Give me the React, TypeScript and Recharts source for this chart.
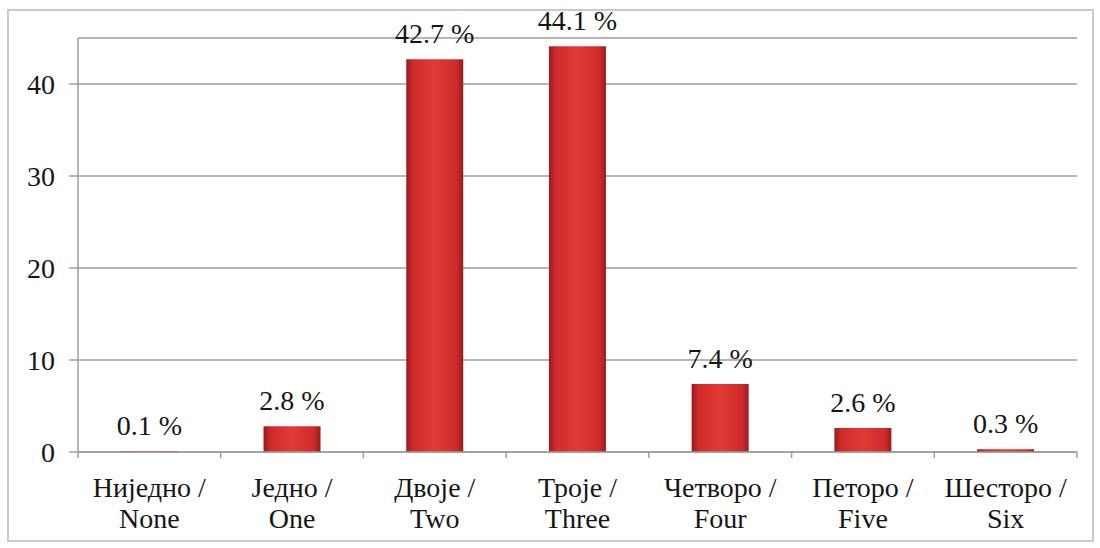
import { BarChart, Bar, XAxis, YAxis, CartesianGrid, LabelList } from 'recharts';

const categories = [
  ['Ниједно /', 'None'],
  ['Једно /', 'One'],
  ['Двоје /', 'Two'],
  ['Троје /', 'Three'],
  ['Четворо /', 'Four'],
  ['Петоро /', 'Five'],
  ['Шесторо /', 'Six'],
];
const shares = [0.1, 2.8, 42.7, 44.1, 7.4, 2.6, 0.3];
const yTicks = [0, 10, 20, 30, 40];

const data = categories.map((c, i) => ({ name: c.join(' '), lines: c, value: shares[i] }));

const FONT = 'Liberation Serif, DejaVu Serif, serif';
const LINE = '#a39c96';
const TEXT = '#161616';

function CategoryTick(props: any) {
  const { x, y, payload, index } = props;
  const half = payload.offset ?? 71;
  const lines = data[index]?.lines ?? [String(payload.value)];
  return (
    <g>
      <line x1={x - half} y1={y} x2={x - half} y2={y + 6} stroke={LINE} strokeWidth={1.5} />
      {index === data.length - 1 && (
        <line x1={x + half} y1={y} x2={x + half} y2={y + 6} stroke={LINE} strokeWidth={1.5} />
      )}
      <text x={x} y={y} textAnchor="middle" fill={TEXT} fontSize={28} fontFamily={FONT}>
        {lines.map((l: string, k: number) => (
          <tspan key={k} x={x} dy={k === 0 ? 45 : 31}>
            {l}
          </tspan>
        ))}
      </text>
    </g>
  );
}

export default function App() {
  return (
    <div style={{ position: 'absolute', left: 0, top: 0, width: 1100, height: 548, background: '#fff' }}>
      <div
        style={{
          position: 'absolute',
          left: 7,
          top: 9,
          width: 1083,
          height: 529,
          border: '2px solid #cfc9c4',
        }}
      />
      <div style={{ position: 'absolute', left: 0, top: 0 }}>
        <BarChart
          width={1100}
          height={548}
          data={data}
          margin={{ top: 38, right: 23, bottom: 6, left: 0 }}
          barCategoryGap="30%"
        >
          <defs>
            <linearGradient id="barFill" x1="0" y1="0" x2="1" y2="0">
              <stop offset="0%" stopColor="#9a1b1b" />
              <stop offset="12%" stopColor="#cf2b2b" />
              <stop offset="50%" stopColor="#e23b36" />
              <stop offset="88%" stopColor="#cf2b2b" />
              <stop offset="100%" stopColor="#9a1b1b" />
            </linearGradient>
          </defs>
          <CartesianGrid vertical={false} stroke={LINE} strokeWidth={1.5} />
          <XAxis
            dataKey="name"
            height={90}
            interval={0}
            tickLine={false}
            tickSize={0}
            tickMargin={0}
            axisLine={{ stroke: LINE, strokeWidth: 1.5 }}
            tick={<CategoryTick />}
          />
          <YAxis
            width={78}
            domain={[0, 45]}
            ticks={yTicks}
            tickSize={9}
            tickMargin={14}
            axisLine={{ stroke: LINE, strokeWidth: 1.5 }}
            tickLine={{ stroke: LINE, strokeWidth: 1.5 }}
            tick={{ fill: TEXT, fontSize: 28, fontFamily: FONT }}
          />
          <Bar dataKey="value" fill="url(#barFill)" isAnimationActive={false}>
            <LabelList
              dataKey="value"
              position="top"
              offset={16}
              formatter={(v: any) => `${v} %`}
              fill={TEXT}
              fontSize={28}
              fontFamily={FONT}
            />
          </Bar>
        </BarChart>
      </div>
    </div>
  );
}
